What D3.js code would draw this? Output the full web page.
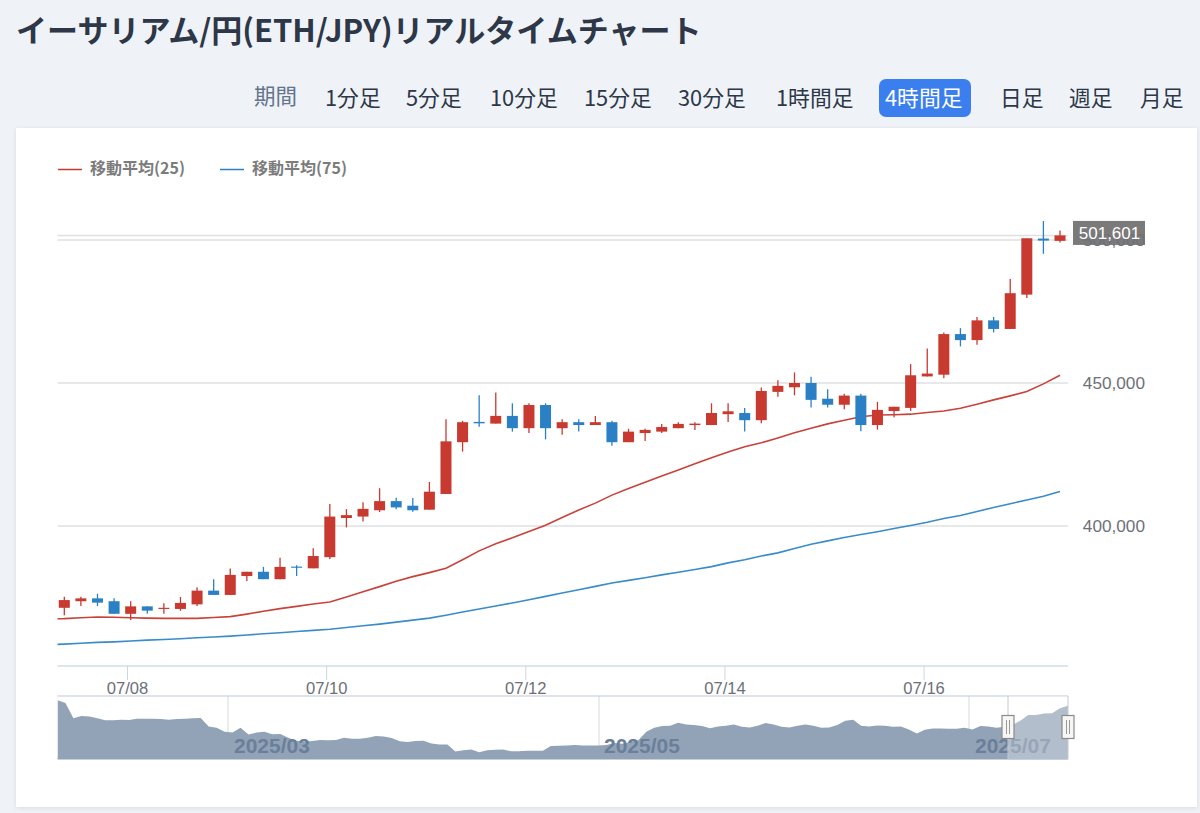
<!DOCTYPE html>
<html lang="ja">
<head>
<meta charset="utf-8">
<title>ETH/JPY</title>
<script src="https://cdn.jsdelivr.net/npm/d3@7"></script>
<style>
html,body{margin:0;padding:0;background:#eff3f8;overflow:hidden}
svg{display:block}
text{font-family:"Liberation Sans","Noto Sans CJK JP",sans-serif}
.jp{font-family:"Noto Sans CJK JP","Noto Sans",sans-serif}
</style>
</head>
<body>
<svg id="c" width="1200" height="813"></svg>
<script>
const titleText = "イーサリアム/円(ETH/JPY)リアルタイムチャート";
const periodLabel = "期間";
const tabLabels = ["1分足","5分足","10分足","15分足","30分足","1時間足","4時間足","日足","週足","月足"];
const activeTab = "4時間足";
const legendLabels = ["移動平均(25)","移動平均(75)"];
const dateLabels = ["07/08","07/10","07/12","07/14","07/16"];
const dateTickIndex = [3.78,15.78,27.78,39.78,51.78];
const priceTicks = [400000,450000,500000];
const lastPrice = 501601;
const overviewLabels = ["2025/03","2025/05","2025/07"];

const opens = [371400,373700,374700,373700,369300,371900,371000,371000,372600,377400,375900,382500,384000,381400,385800,385200,389100,402800,403300,405500,408700,407100,405700,411200,429300,436400,435800,438500,434200,442300,434200,436300,435300,436300,429300,432500,433000,434200,435300,435300,439100,439500,437000,446900,448500,450000,444500,442400,445600,435300,440200,441300,452300,452900,467100,465000,471900,468900,480900,500500,499700];
const closes = [374100,374700,373200,369300,371900,370400,371400,373100,377400,375900,382900,384000,381400,385700,385400,389500,403300,403800,406000,408700,406500,405500,412000,429600,436300,435900,438500,434200,442300,434200,436300,435300,436300,429300,433000,433600,434600,435700,435800,439500,440100,437000,447200,449000,450000,444100,442400,445600,435300,440600,441700,452700,453300,467100,465000,471900,468900,481400,500600,499800,501601];
const lows = [368800,372000,372000,369300,367100,369300,369300,370400,372000,375900,375900,380800,381400,381400,382500,385200,388500,399500,401600,404900,405900,405000,405700,411200,426000,434700,435800,433000,432500,430300,431900,433000,435300,428100,429300,429700,432500,434200,433600,435300,436400,433000,435900,445200,445700,441400,441400,440800,433100,433700,438000,440200,452300,451700,462800,463400,467700,468900,479700,495200,499100];
const highs = [375300,375300,376300,374700,373700,371900,373000,375200,378600,381400,385100,384000,385700,388900,386300,392200,407700,405900,408300,413200,409900,409800,415400,437300,436800,445700,446700,442900,442900,442900,437300,437300,438500,436800,434000,434000,435700,436300,436300,442900,442900,441300,448400,451000,453700,452200,447800,446200,446200,443400,441700,456600,462100,467700,469200,473100,473100,486400,500600,506600,503300];

// The first value of each moving average belongs to the candle just left of the visible window.
const ma25 = [367500,367600,367900,368200,368100,367900,367800,367700,367700,367700,368000,368300,369200,370200,371100,371900,372700,373400,375200,377000,378800,380700,382300,383700,385200,388200,391300,393800,395900,398100,400300,403000,405600,408000,410800,413100,415300,417500,419600,421800,423900,425900,427700,429100,430800,432600,434200,435700,437000,438200,438800,438900,439100,439700,440200,441200,442600,444100,445500,447000,449700,452700];
const ma75 = [358500,358700,359000,359300,359500,359800,360100,360300,360600,360900,361200,361500,361900,362300,362700,363100,363500,363900,364500,365100,365700,366400,367100,367800,368800,369900,371000,372000,373100,374200,375400,376600,377700,378900,380100,381000,381900,382900,383800,384800,385800,387100,388200,389500,390600,392100,393600,394800,396000,397000,398000,399100,400200,401300,402600,403700,405100,406500,407800,409100,410400,412100];

const overviewLevels = [173,165,120,127,125,120,114,114,116,115,119,119,119,118,116,118,119,120,121,96,92,80,78,92,72,78,80,73,74,63,54,51,53,56,55,56,63,60,60,63,68,66,62,52,50,53,54,46,43,43,22,26,28,20,26,27,28,23,23,24,24,24,38,39,40,41,40,40,40,41,47,45,50,55,80,92,97,98,107,102,100,97,91,96,98,102,95,93,98,106,102,95,93,98,102,98,92,93,100,113,116,98,96,99,98,95,96,87,75,86,90,90,89,89,92,87,97,96,92,95,100,113,130,130,134,135,150,157];

const RED="#c8392f", BLUE="#2b80c5";
const L=57.5, R=1068, AXY=666, OT=696, OB=759;
const svg=d3.select("#c");

svg.append("text").attr("class","jp").attr("x",16).attr("y",42).attr("font-size",31).attr("font-weight",700).attr("fill","#2d3748").text(titleText);

// period selector
const tabX=[325,406,490,584,678,776,885,1000,1069,1140];
svg.append("text").attr("class","jp").attr("x",254).attr("y",104).attr("font-size",21.5).attr("fill","#64748b").text(periodLabel);
svg.append("rect").attr("x",879).attr("y",79).attr("width",92).attr("height",38).attr("rx",7).attr("fill","#3b7eee");
svg.selectAll(".tab").data(tabLabels).join("text").attr("class","jp tab")
  .attr("x",(d,i)=>tabX[i]).attr("y",105.5).attr("font-size",21.8)
  .attr("fill",d=>d===activeTab?"#fff":"#2d3748").text(d=>d);

// card
const defs=svg.append("defs");
const f=defs.append("filter").attr("id","sh").attr("x","-2%").attr("y","-2%").attr("width","104%").attr("height","104%");
f.append("feDropShadow").attr("dx",0).attr("dy",1).attr("stdDeviation",2).attr("flood-color","#000").attr("flood-opacity",.1);
svg.append("rect").attr("x",16).attr("y",128).attr("width",1181).attr("height",679).attr("fill","#fff").attr("filter","url(#sh)");
defs.append("clipPath").attr("id","plot").append("rect").attr("x",L).attr("y",128).attr("width",R-L).attr("height",AXY-128);
defs.append("clipPath").attr("id","ov").append("rect").attr("x",L).attr("y",OT).attr("width",R-L).attr("height",OB-OT);

// legend
const legendColors=[RED,BLUE], legendX=[58,220];
legendLabels.forEach((t,i)=>{
  svg.append("line").attr("x1",legendX[i]).attr("x2",legendX[i]+24).attr("y1",169.5).attr("y2",169.5).attr("stroke",legendColors[i]).attr("stroke-width",1.5);
  svg.append("text").attr("class","jp").attr("x",legendX[i]+32).attr("y",173.5).attr("font-size",16).attr("font-weight",700).attr("fill","#7c7c7c").text(t);
});

// scales
const x=d3.scaleLinear().domain([0,60]).range([64.3,1060]);
const y=d3.scaleLinear().domain([400000,500000]).range([526,240]);

// grid
svg.selectAll(".grid").data(priceTicks.concat(lastPrice)).join("line").attr("class","grid")
  .attr("x1",L).attr("x2",R).attr("y1",d=>y(d)).attr("y2",d=>y(d)).attr("stroke","#dfe0e3").attr("stroke-width",1.5);

// price tag background
svg.append("rect").attr("x",1073).attr("y",y(lastPrice)-14.5).attr("width",72).attr("height",24).attr("fill","#7a7a7a");

// y axis labels
const yAxis=svg.append("g").attr("transform",`translate(${R},0)`).call(d3.axisRight(y).tickValues(priceTicks).tickSize(0).tickFormat(d3.format(",")));
yAxis.select(".domain").remove();
yAxis.selectAll("text").attr("x",77).attr("text-anchor","end").attr("font-size",17.2).attr("fill","#6e7079").attr("font-family",null).attr("dy","0.32em");

svg.append("text").attr("x",1109.5).attr("y",y(lastPrice)-2+5.8).attr("text-anchor","middle").attr("font-size",17).attr("fill","#fff").text(d3.format(",")(lastPrice));

// x axis
const xAxis=svg.append("g").attr("transform",`translate(0,${AXY})`).call(d3.axisBottom(x).tickValues(dateTickIndex).tickSize(14).tickPadding(2).tickFormat((d,i)=>dateLabels[i]));
xAxis.select(".domain").remove();
xAxis.selectAll("line").attr("stroke","#cdd6e6");
xAxis.selectAll("text").attr("font-size",16.6).attr("fill","#6e7079").attr("font-family",null);
svg.append("line").attr("x1",L).attr("x2",R).attr("y1",AXY).attr("y2",AXY).attr("stroke","#bccbe0").attr("stroke-width",1.2);

// moving averages
const ln=d3.line().x((d,i)=>x(i-1)).y(d=>y(d));
const plot=svg.append("g").attr("clip-path","url(#plot)");
plot.append("path").attr("d",ln(ma75)).attr("fill","none").attr("stroke","#3a8cc8").attr("stroke-width",1.6);
plot.append("path").attr("d",ln(ma25)).attr("fill","none").attr("stroke","#c9423a").attr("stroke-width",1.6);

// candles
const candles=plot.selectAll(".candle").data(opens.map((o,i)=>({i,o,c:closes[i],l:lows[i],h:highs[i]}))).join("g").attr("class","candle");
candles.append("line").attr("x1",d=>x(d.i)).attr("x2",d=>x(d.i)).attr("y1",d=>y(d.h)).attr("y2",d=>y(d.l))
  .attr("stroke",d=>d.c>=d.o?RED:BLUE).attr("stroke-width",1.3);
candles.append("rect").attr("x",d=>x(d.i)-5.5).attr("width",11)
  .attr("y",d=>y(Math.max(d.o,d.c))).attr("height",d=>Math.max(1,Math.abs(y(d.o)-y(d.c))))
  .attr("fill",d=>d.c>=d.o?RED:BLUE);

// overview
const ox=d3.scaleLinear().domain([0,overviewLevels.length-1]).range([L,R]);
const oy=d3.scaleLinear().domain([0,174]).range([OB,OT+4]);
const ovGridX=[228,599,969], ovTextX=[234,604,975];
svg.selectAll(".ovg").data(ovGridX).join("line").attr("class","ovg").attr("x1",d=>d).attr("x2",d=>d).attr("y1",OT).attr("y2",OB).attr("stroke","#dcdfe4").attr("stroke-width",1.2);
svg.append("path").attr("d",d3.area().x((d,i)=>ox(i)).y0(OB).y1(d=>oy(d))(overviewLevels)).attr("fill","#92a3b7").attr("clip-path","url(#ov)");
svg.selectAll(".ovt").data(overviewLabels).join("text").attr("class","ovt").attr("x",(d,i)=>ovTextX[i]).attr("y",753).attr("font-size",21).attr("font-weight",700).attr("fill","#6a7f99").text(d=>d);
svg.append("line").attr("x1",L).attr("x2",R).attr("y1",OT).attr("y2",OT).attr("stroke","#c2c8d4").attr("stroke-width",1.2);
svg.append("line").attr("x1",L).attr("x2",R).attr("y1",OB).attr("y2",OB).attr("stroke","#8ea0b5").attr("stroke-width",1);
const SEL0=1008;
svg.append("rect").attr("x",SEL0).attr("y",OT).attr("width",R-SEL0).attr("height",OB-OT).attr("fill","#fff").attr("opacity",.3);
svg.append("line").attr("x1",SEL0).attr("x2",SEL0).attr("y1",OT).attr("y2",OB).attr("stroke","#c2c8d4");
svg.append("line").attr("x1",R).attr("x2",R).attr("y1",OT).attr("y2",OB).attr("stroke","#c2c8d4");
[SEL0,R].forEach(hx=>{
  svg.append("rect").attr("x",hx-6).attr("y",715.5).attr("width",12).attr("height",23).attr("fill","#f6f6f4").attr("stroke","#8a8a8a").attr("stroke-width",1.2);
  [-1.5,1.5].forEach(dx=>svg.append("line").attr("x1",hx+dx).attr("x2",hx+dx).attr("y1",720).attr("y2",734).attr("stroke","#999").attr("stroke-width",1));
});
</script>
</body>
</html>
